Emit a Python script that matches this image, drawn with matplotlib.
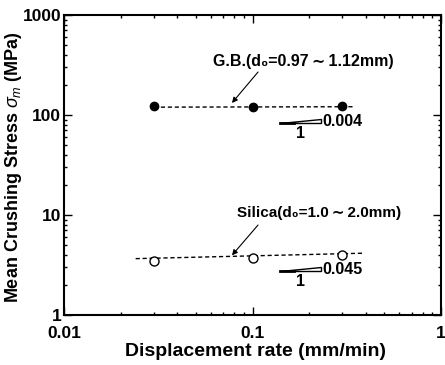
import matplotlib
matplotlib.use("Agg")
import matplotlib.pyplot as plt
import numpy as np

plt.rcParams['font.family'] = ['Liberation Sans', 'DejaVu Sans']
plt.rcParams['mathtext.fontset'] = 'custom'
plt.rcParams['mathtext.rm'] = 'Liberation Sans'
plt.rcParams['mathtext.it'] = 'Liberation Sans:italic'
plt.rcParams['mathtext.bf'] = 'Liberation Sans:bold'

# measured data
rate = [0.03, 0.1, 0.3]
gb_stress = [123, 120, 123]
silica_stress = [3.5, 3.75, 4.0]

# fitted lines (power law) and their extent
gb_fit_x = [0.03, 0.35]
gb_slope = 0.004
gb_coef = 121.5
silica_fit_x = [0.024, 0.39]
silica_slope = 0.045
silica_coef = 4.33

gb_label = "G.B.(d\u2080=0.97\u2009\u223c\u20091.12mm)"
silica_label = "Silica(d\u2080=1.0\u2009\u223c\u20092.0mm)"

fig = plt.figure(figsize=(4.45, 3.65), dpi=100)
ax = fig.add_axes([64 / 445, 1 - 315 / 365, 377 / 445, 300 / 365])

def fit(xs, c, m):
    xs = np.array(xs)
    return c * xs ** m

ax.plot(gb_fit_x, fit(gb_fit_x, gb_coef, gb_slope), ls=(0, (3, 2)), c="k", lw=1)
ax.plot(silica_fit_x, fit(silica_fit_x, silica_coef, silica_slope), ls=(0, (3, 2)), c="k", lw=1)
ax.plot(rate, gb_stress, "o", c="k", ms=6, mfc="k")
ax.plot(rate, silica_stress, "o", c="k", ms=6.5, mfc="white", mew=1)

ax.set_xscale("log")
ax.set_yscale("log")
ax.set_xlim(0.01, 1)
ax.set_ylim(1, 1000)
ax.set_xticks([0.01, 0.1, 1])
ax.set_xticklabels(["0.01", "0.1", "1"])
ax.set_yticks([1, 10, 100, 1000])
ax.set_yticklabels(["1", "10", "100", "1000"])
ax.tick_params(which="both", direction="in", top=True, right=True, width=1)
ax.tick_params(which="major", length=6, labelsize=12.5)
ax.tick_params(axis="x", which="major", pad=8)
ax.tick_params(axis="y", which="major", pad=2)
for lab in ax.get_xticklabels() + ax.get_yticklabels():
    lab.set_fontweight("bold")
for s in ax.spines.values():
    s.set_linewidth(1.5)

ax.set_xlabel("Displacement rate (mm/min)", fontsize=14, fontweight="bold")
ax.set_ylabel("Mean Crushing Stress $\\mathit{\\sigma_m}$ (MPa)", fontsize=13, fontweight="bold")
ax.xaxis.set_label_coords(0.509, -0.095)
ax.yaxis.set_label_coords(-0.105, 0.493)

# annotations
ax.text(0.185, 339, gb_label, ha="center", va="center", fontsize=11.5, fontweight="bold")
ax.annotate("", xy=(0.0778, 132), xytext=(0.107, 269),
            arrowprops=dict(arrowstyle="-|>", color="k", lw=0.8, shrinkA=0, shrinkB=0,
                            mutation_scale=8))
ax.text(0.2254, 10.5, silica_label, ha="center", va="center", fontsize=11, fontweight="bold")
ax.annotate("", xy=(0.0778, 3.95), xytext=(0.107, 7.94),
            arrowprops=dict(arrowstyle="-|>", color="k", lw=0.8, shrinkA=0, shrinkB=0,
                            mutation_scale=8))

# slope triangles
def slope_triangle(x0, x1, y0, dy_pix, label):
    trans = ax.transData
    p1 = trans.transform((x1, y0))
    inv = trans.inverted()
    top = inv.transform((p1[0], p1[1] + dy_pix))
    ax.fill([x0, x1, x1], [y0, y0, top[1]], facecolor="white", edgecolor="k", lw=1)
    ax.plot([x0, x0 + (x1 - x0) * 0.3], [y0, y0], c="k", lw=2)
    ax.text(x1 * 1.02, y0 * 1.04, label, fontsize=11.5, fontweight="bold", va="center", ha="left")
    ax.text(10 ** ((np.log10(x0) + np.log10(x1)) / 2), y0 * 0.93, "1", fontsize=11.5,
            fontweight="bold", va="top", ha="center")

slope_triangle(0.14, 0.23, 83, 4, "0.004")
slope_triangle(0.14, 0.23, 2.75, 4, "0.045")

fig.savefig("out.png", dpi=100)
